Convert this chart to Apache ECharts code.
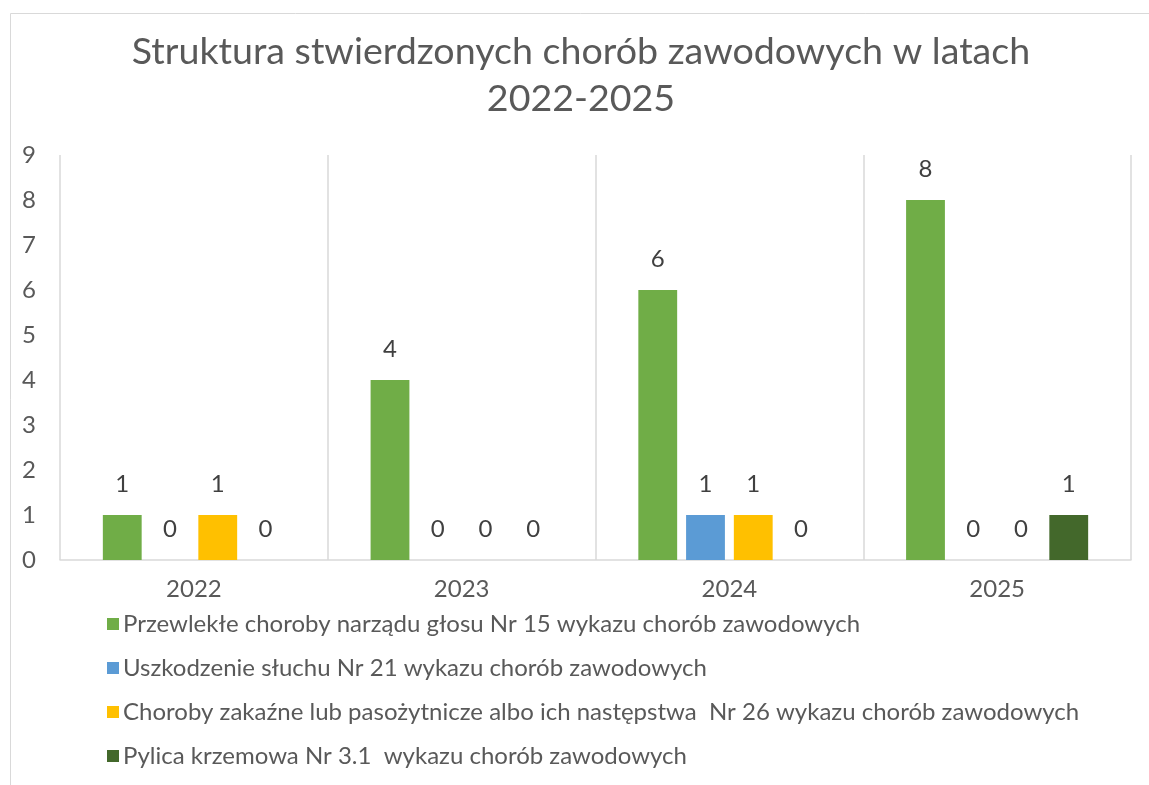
<!DOCTYPE html>
<html>
<head>
<meta charset="utf-8">
<script src="https://cdn.jsdelivr.net/npm/echarts@6/dist/echarts.min.js"></script>
<style>
  html, body { margin: 0; padding: 0; background: #fff; }
  #chart { width: 1149px; height: 785px; }
</style>
</head>
<body>
<div id="chart"></div>
<script>
// dane wykresu
var years = ['2022', '2023', '2024', '2025'];
var seriesNames = [
    'Przewlekłe choroby narządu głosu Nr 15 wykazu chorób zawodowych',
    'Uszkodzenie słuchu Nr 21 wykazu chorób zawodowych',
    'Choroby zakaźne lub pasożytnicze albo ich następstwa  Nr 26 wykazu chorób zawodowych',
    'Pylica krzemowa Nr 3.1  wykazu chorób zawodowych'
];
var glos = [1, 4, 6, 8];
var sluch = [0, 0, 1, 0];
var zakazne = [1, 0, 1, 0];
var pylica = [0, 0, 0, 1];
var colors = ['#70AD47', '#5B9BD5', '#FFC000', '#43682B'];

var myChart = echarts.init(document.getElementById('chart'));

function barSeries(name, data, color) {
    return {
        name: name,
        type: 'bar',
        data: data,
        barGap: '23%',
        barCategoryGap: '32%',
        itemStyle: { color: color },
        label: {
            show: true,
            position: 'top',
            distance: 19,
            fontSize: 24,
            fontFamily: 'Lato',
            color: '#404040'
        }
    };
}

var option = {
    color: colors,
    animation: false,
    graphic: [{
        type: 'rect',
        shape: { x: 10.5, y: 13.5, width: 1300, height: 1000 },
        style: { fill: 'none', stroke: '#d9d9d9', lineWidth: 1 },
        silent: true
    }],
    title: {
        text: 'Struktura stwierdzonych chorób zawodowych w latach\n2022-2025',
        left: 576,
        textAlign: 'center',
        top: 23,
        textStyle: {
            fontSize: 37.6,
            fontWeight: 'normal',
            fontFamily: 'Lato',
            color: '#595959',
            lineHeight: 47
        }
    },
    legend: {
        orient: 'vertical',
        left: 102,
        top: 607,
        itemWidth: 12,
        itemHeight: 12,
        itemGap: 20,
        icon: 'rect',
        data: seriesNames,
        textStyle: {
            fontSize: 24,
            fontFamily: 'Lato',
            color: '#595959',
            padding: [0, 0, 0, -1]
        }
    },
    grid: {
        left: 60,
        right: 18,
        top: 155,
        bottom: 225,
        containLabel: false
    },
    xAxis: {
        type: 'category',
        data: years,
        axisLine: { lineStyle: { color: '#d9d9d9', width: 1.5 } },
        axisTick: { show: false },
        splitLine: { show: true, lineStyle: { color: '#d9d9d9', width: 1.5 } },
        axisLabel: {
            fontSize: 24,
            fontFamily: 'Lato',
            color: '#595959',
            margin: 17
        }
    },
    yAxis: {
        type: 'value',
        min: 0,
        max: 9,
        interval: 1,
        axisLine: { show: false },
        axisTick: { show: false },
        splitLine: { show: false },
        axisLabel: {
            fontSize: 24,
            fontFamily: 'Lato',
            color: '#595959',
            margin: 24
        }
    },
    series: [
        barSeries(seriesNames[0], glos, colors[0]),
        barSeries(seriesNames[1], sluch, colors[1]),
        barSeries(seriesNames[2], zakazne, colors[2]),
        barSeries(seriesNames[3], pylica, colors[3])
    ]
};

myChart.setOption(option);
window.onresize = function () {
    myChart.resize();
};
</script>
</body>
</html>
